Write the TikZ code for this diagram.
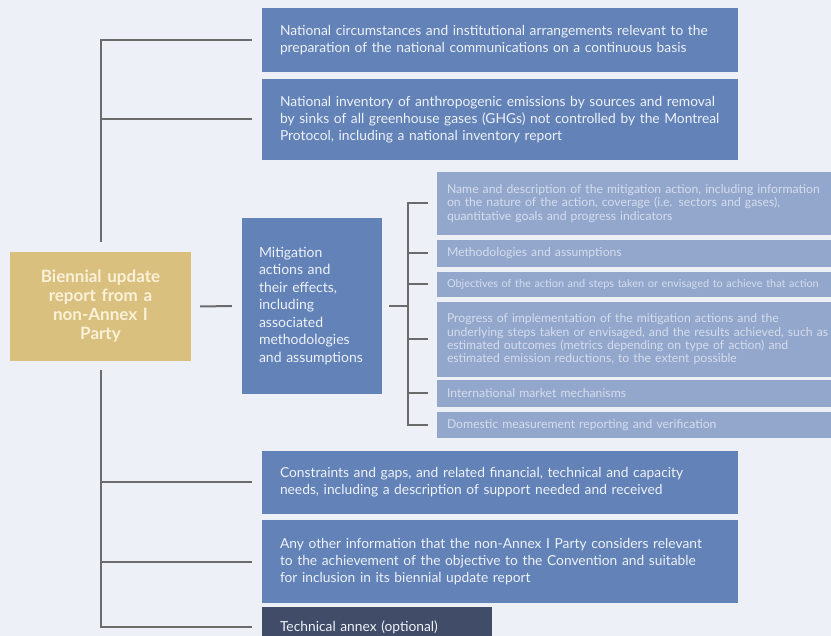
\documentclass[tikz,border=0pt]{standalone}
\usepackage{fontspec}
\setmainfont{Lato}
\definecolor{bgcol}{HTML}{EDF1F7}
\definecolor{boxblue}{HTML}{6282B8}
\definecolor{subblue}{HTML}{93A7CC}
\definecolor{subtext}{HTML}{D4DDEE}
\definecolor{boxtext}{HTML}{EEF2F9}
\definecolor{gold}{HTML}{D9C07E}
\definecolor{goldtext}{HTML}{FAF1D8}
\definecolor{annex}{HTML}{404C68}
\definecolor{linecol}{HTML}{6B6B6B}
\begin{document}
\begin{tikzpicture}[x=1pt, y=-1pt,
  bigbox/.style={fill=boxblue, text=boxtext, inner xsep=18pt, inner ysep=0pt,
    minimum width=476pt, text width=440pt, align=left,
    font=\fontsize{13.8}{17}\selectfont},
  subbox/.style={fill=subblue, text=subtext, inner xsep=10pt, inner ysep=0pt,
    minimum width=443pt, text width=423pt, align=left,
    font=\fontsize{12.2}{13.3}\selectfont},
  conn/.style={draw=linecol, line width=2pt}]
\useasboundingbox (0,0) rectangle (831,636);
\fill[bgcol] (0,0) rectangle (831,636);

% root and the mitigation box
\node[fill=gold, text=goldtext, minimum width=181pt, minimum height=109pt,
  text width=165pt, align=center, inner sep=0pt,
  font=\fontsize{17}{19}\selectfont\bfseries] (bur) at (100.5,306.5)
  {Biennial update\\report from a\\non-Annex I\\Party};
\node[fill=boxblue, text=boxtext, minimum width=140pt, minimum height=176pt,
  text width=106pt, align=left, inner xsep=17pt, inner ysep=0pt,
  font=\fontsize{14}{17.5}\selectfont] (mit) at (312,306)
  {Mitigation\\actions and\\their effects,\\including\\associated\\methodologies\\and assumptions};

% main items
\node[bigbox, minimum height=64pt] (nat1) at (500,40)
  {National circumstances and institutional arrangements relevant to the\\preparation of the national communications on a continuous basis};
\node[bigbox, minimum height=81pt] (nat2) at (500,119.5)
  {National inventory of anthropogenic emissions by sources and removal\\by sinks of all greenhouse gases (GHGs) not controlled by the Montreal\\Protocol, including a national inventory report};
\node[bigbox, minimum height=63pt] (con) at (500,482.5)
  {Constraints and gaps, and related financial, technical and capacity\\needs, including a description of support needed and received};
\node[bigbox, minimum height=83pt] (oth) at (500,561.5)
  {Any other information that the non-Annex I Party considers relevant\\to the achievement of the objective to the Convention and suitable\\for inclusion in its biennial update report};
\node[bigbox, fill=annex, minimum width=230pt, text width=194pt, minimum height=40pt] (tec) at (377,627)
  {Technical annex (optional)};

% mitigation sub items (they run past the right edge)
\node[subbox, minimum height=63pt] (s1) at (658.5,203.5)
  {Name and description of the mitigation action, including information\\on the nature of the action, coverage (i.e. sectors and gases),\\quantitative goals and progress indicators};
\node[subbox, minimum height=27pt] (s2) at (658.5,253.5) {Methodologies and assumptions};
\node[subbox, minimum height=25pt, font=\fontsize{10.9}{13.3}\selectfont] (s3) at (658.5,284.5)
  {Objectives of the action and steps taken or envisaged to achieve that action};
\node[subbox, minimum height=75pt] (s4) at (658.5,339.5)
  {Progress of implementation of the mitigation actions and the\\underlying steps taken or envisaged, and the results achieved, such as\\estimated outcomes (metrics depending on type of action) and\\estimated emission reductions, to the extent possible};
\node[subbox, minimum height=27pt] (s5) at (658.5,393.5) {International market mechanisms};
\node[subbox, minimum height=26pt] (s6) at (658.5,425) {Domestic measurement reporting and verification};

% tree on the left
\draw[conn] ([yshift=10pt]bur.north) |- ([xshift=-10pt]nat1.west);
\draw[conn] ([xshift=-10pt]nat2.west) -- (nat2.west -| bur.center);
\draw[conn] ([yshift=-9pt]bur.south) |- ([xshift=-10pt]tec.west);
\foreach \n in {con,oth}
  \draw[conn] ([xshift=-10pt]\n.west) -- (\n.west -| bur.center);
\draw[conn] ([xshift=9pt]bur.east) -- ([xshift=-10pt]mit.west);

% tree of the mitigation items
\coordinate (hub) at ([xshift=26pt]mit.east);
\draw[conn] ([xshift=7pt]mit.east) -- (hub);
\draw[conn] ([xshift=-9pt]s1.west) -| (hub) |- ([xshift=-9pt]s6.west);
\foreach \n in {s2,s3,s4,s5}
  \draw[conn] ([xshift=-9pt]\n.west) -- (\n.west -| hub);

\end{tikzpicture}
\end{document}
